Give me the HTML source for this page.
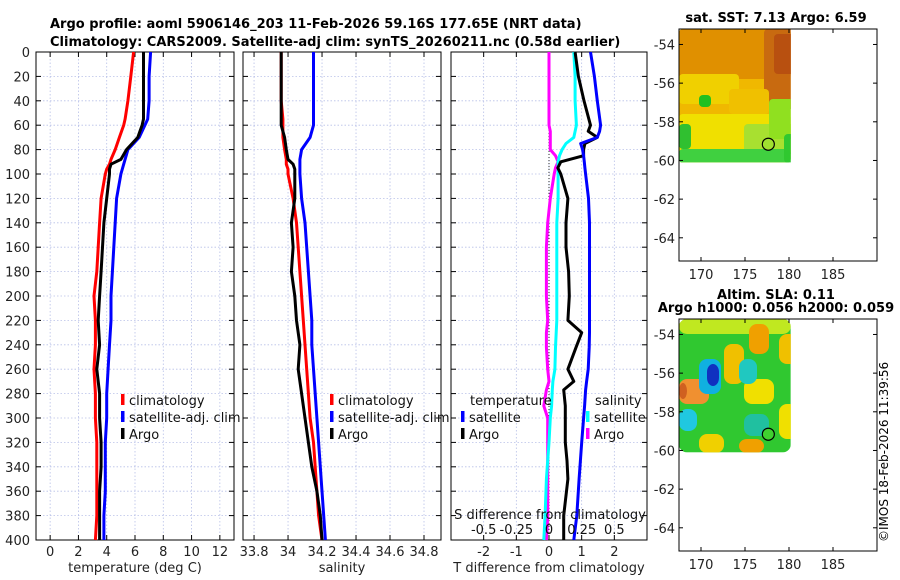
<!DOCTYPE html>
<html><head><meta charset="utf-8"><style>
body{margin:0;background:#fff}
svg{display:block;font-family:"DejaVu Sans","Liberation Sans",sans-serif}
</style></head><body>
<svg id="c" width="900" height="580" viewBox="0 0 900 580">
<text x="50" y="28" font-size="13" font-weight="bold">Argo profile: aoml 5906146_203 11-Feb-2026 59.16S 177.65E (NRT data)</text>
<text x="50" y="46" font-size="13" font-weight="bold">Climatology: CARS2009. Satellite-adj clim: synTS_20260211.nc (0.58d earlier)</text>
<g id="g"></g>
<text x="0" y="0" font-size="12" transform="translate(888,542) rotate(-90)">©IMOS 18-Feb-2026 11:39:56</text>
</svg>
<script>
const depths=[0,20,40,55,60,70,80,88,92,96,100,120,140,160,180,200,220,240,260,280,300,320,340,360,380,400];
const tClim=[5.9,5.7,5.5,5.3,5.2,4.9,4.6,4.3,4.2,4.0,3.9,3.6,3.5,3.4,3.3,3.1,3.2,3.2,3.1,3.2,3.2,3.3,3.3,3.3,3.3,3.2];
const tSat=[7.1,7.0,7.0,6.9,6.7,6.3,5.5,5.3,5.2,5.1,5.0,4.7,4.6,4.5,4.4,4.3,4.3,4.2,4.1,4.0,4.0,3.9,3.9,3.9,3.8,3.8];
const tArgo=[6.6,6.6,6.6,6.6,6.5,6.2,5.4,5.0,4.3,4.2,4.2,4.0,3.8,3.7,3.6,3.5,3.4,3.5,3.3,3.5,3.5,3.6,3.6,3.5,3.5,3.5];
const sClim=[33.96,33.96,33.96,33.97,33.97,33.97,33.98,33.99,33.99,34.0,34.0,34.03,34.05,34.06,34.07,34.08,34.09,34.1,34.11,34.12,34.13,34.15,34.16,34.17,34.18,34.2];
const sSat=[34.15,34.15,34.15,34.15,34.15,34.13,34.08,34.07,34.07,34.07,34.07,34.08,34.1,34.11,34.12,34.13,34.14,34.14,34.15,34.16,34.17,34.18,34.19,34.2,34.21,34.22];
const sArgo=[33.96,33.96,33.96,33.96,33.96,33.98,33.99,34.0,34.03,34.04,34.04,34.04,34.02,34.03,34.02,34.04,34.05,34.07,34.06,34.08,34.1,34.12,34.14,34.17,34.19,34.2];
const depthsD=[0,20,40,60,65,70,75,80,85,90,95,100,120,140,160,180,200,220,230,242,260,270,277,290,300,320,335,350,380,400];
const dTsat=[1.27,1.39,1.48,1.58,1.55,1.48,0.97,1.03,1.06,1.08,1.1,1.12,1.21,1.24,1.24,1.24,1.24,1.24,1.24,1.23,1.2,1.15,1.12,1.09,1.06,1.0,0.96,0.92,0.85,0.76];
const dTargo=[0.8,0.9,1.07,1.27,1.2,1.48,1.1,1.06,1.06,0.36,0.27,0.36,0.58,0.52,0.52,0.6,0.62,0.58,1.0,0.83,0.58,0.76,0.45,0.5,0.5,0.5,0.55,0.58,0.45,0.45];
const dSsat=[0.19,0.2,0.2,0.21,0.2,0.19,0.13,0.1,0.08,0.07,0.07,0.07,0.07,0.06,0.06,0.06,0.06,0.06,0.055,0.05,0.045,0.03,0.025,0.02,0.01,0.0,-0.01,-0.02,-0.03,-0.04];
const dSargo=[0.0,0.0,0.0,0.0,0.01,0.01,0.01,0.01,0.05,0.07,0.05,0.04,0.01,-0.01,-0.02,-0.02,-0.02,-0.01,-0.02,-0.02,-0.01,0.0,-0.02,-0.04,-0.01,-0.01,-0.01,-0.01,-0.01,-0.02];
const depthTicks=[0,20,40,60,80,100,120,140,160,180,200,220,240,260,280,300,320,340,360,380,400];
const tTicks=[0,2,4,6,8,10,12];
const sTicks=[33.8,34,34.2,34.4,34.6,34.8];
const dTicks=[-2,-1,0,1,2];
const dSTicks=[-0.5,-0.25,0,0.25,0.5];
const dSTickLabels=["-0.5","-0.25","0","0.25","0.5"];
const latTicks=[-54,-56,-58,-60,-62,-64];
const lonTicks=[170,175,180,185];

const NS="http://www.w3.org/2000/svg";
const G=document.getElementById('g');
function el(t,a,p){const e=document.createElementNS(NS,t);for(const k in a)e.setAttribute(k,a[k]);(p||G).appendChild(e);return e;}
const Y0=52,Y1=540;
const yD=d=>Y0+(d/400)*(Y1-Y0);
function lin(d0,d1,p0,p1){return v=>p0+(v-d0)/(d1-d0)*(p1-p0);}

function panel(name,x0,x1,xs,ticks,labels,xlabel,yl){
  const gp=el('g',{});
  
  
  depthTicks.forEach(d=>{const l=el('line',{x1:x0,x2:x1,y1:yD(d),y2:yD(d),stroke:'#b8c0e8','stroke-width':0.8,'stroke-dasharray':'1.5,2'},gp);
    
    el('line',{x1:x0,x2:x0+5,y1:yD(d),y2:yD(d),stroke:'#000'},gp);el('line',{x1:x1-5,x2:x1,y1:yD(d),y2:yD(d),stroke:'#000'},gp);
    if(yl){const t=el('text',{x:x0-6,y:yD(d)+5,'font-size':13,'text-anchor':'end',fill:'#222'},gp);t.textContent=d;
      }});
  ticks.forEach((v,i)=>{const X=xs(v);
    el('line',{x1:X,x2:X,y1:Y0,y2:Y1,stroke:'#b8c0e8','stroke-width':0.8,'stroke-dasharray':'1.5,2'},gp);
    el('line',{x1:X,x2:X,y1:Y1,y2:Y1-5,stroke:'#000'},gp);el('line',{x1:X,x2:X,y1:Y0,y2:Y0+5,stroke:'#000'},gp);
    const t=el('text',{x:X,y:556,'font-size':13,'text-anchor':'middle',fill:'#222'},gp);t.textContent=labels[i];
    });
  const r=el('rect',{x:x0,y:Y0,width:x1-x0,height:Y1-Y0,fill:'none',stroke:'#000','stroke-width':1},gp);
  
  const xl=el('text',{x:(x0+x1)/2,y:572,'font-size':13,'text-anchor':'middle',fill:'#222'},gp);xl.textContent=xlabel;
  
  return gp;
}
function line(gp,xs,vals,col,nm,dep){
  const dd=dep||depths;
  const pts=vals.map((v,i)=>xs(v).toFixed(1)+','+yD(dd[i]).toFixed(1)).join(' ');
  const p=el('polyline',{points:pts,fill:'none',stroke:col,'stroke-width':3,'stroke-linejoin':'round'},gp);
  
}
function leg(gp,x,y,col,txt){
  el('rect',{x:x-2,y:y-9,width:3.5,height:11,fill:col},gp);
  const t=el('text',{x:x+6,y:y+2,'font-size':13,fill:'#111'},gp);t.textContent=txt;
  
}
// Panel 1
const xT=lin(-1,13,36,234);
let p=panel('temperature-panel',36,234,xT,tTicks,tTicks.map(String),'temperature (deg C)',true);
line(p,xT,tClim,'#f00','temp-climatology-line');line(p,xT,tSat,'#00f','temp-satellite-line');line(p,xT,tArgo,'#000','temp-argo-line');
leg(p,123,403,'#f00','climatology');leg(p,123,420,'#00f','satellite-adj. clim');leg(p,123,437,'#000','Argo');
// Panel 2
const xS=lin(33.735,34.9,243,441);
p=panel('salinity-panel',243,441,xS,sTicks,sTicks.map(String),'salinity',false);
line(p,xS,sClim,'#f00','sal-climatology-line');line(p,xS,sSat,'#00f','sal-satellite-line');line(p,xS,sArgo,'#000','sal-argo-line');
leg(p,332,403,'#f00','climatology');leg(p,332,420,'#00f','satellite-adj. clim');leg(p,332,437,'#000','Argo');
// Panel 3
const xd=lin(-3,3,451,647), xds=lin(-0.75,0.75,451,647);
p=panel('difference-panel',451,647,xd,dTicks,dTicks.map(String),'T difference from climatology',false);
el('line',{x1:xd(0),x2:xd(0),y1:Y0,y2:Y1,stroke:'#000','stroke-width':0.8,'stroke-dasharray':'1,2'},p);
line(p,xds,dSargo,'#f0f','sdiff-argo-line',depthsD);line(p,xds,dSsat,'#0ff','sdiff-satellite-line',depthsD);
line(p,xd,dTargo,'#000','tdiff-argo-line',depthsD);line(p,xd,dTsat,'#00f','tdiff-satellite-line',depthsD);
let t=el('text',{x:470,y:405,'font-size':13,fill:'#111'},p);t.textContent='temperature';

t=el('text',{x:595,y:405,'font-size':13,fill:'#111'},p);t.textContent='salinity';

leg(p,463,420,'#00f','satellite');leg(p,463,437,'#000','Argo');leg(p,588,420,'#0ff','satellite');leg(p,588,437,'#f0f','Argo');
t=el('text',{x:xd(0)+1,y:519,'font-size':13,'text-anchor':'middle',fill:'#111'},p);t.textContent='S difference from climatology';

dSTicks.forEach((v,i)=>{const tt=el('text',{x:xds(v),y:534,'font-size':13,'text-anchor':'middle',fill:'#111'},p);tt.textContent=dSTickLabels[i];
  });

// Maps
function map(name,y0,titles,kind){
  const x0=679,x1=877,y1=y0+232;
  const gm=el('g',{});
  const lon=lin(167.5,190,x0,x1), lat=lin(-53.2,-65.2,y0,y1);
  const iw=lon(180.2)-x0, ih=lat(-60.1)-y0;
  const cid='cl'+kind;
  const cp=el('clipPath',{id:cid},gm);el('rect',{x:x0,y:y0,width:iw,height:ih},cp);
  const im=el('g',{'clip-path':'url(#'+cid+')'},gm);
  
  const blobs = kind==='sst' ? [
    [x0,y0,iw,ih,'#f0b800'],[x0,y0,iw,50,'#e09000'],[x0+85,y0,40,80,'#c86a10'],[x0+95,y0+5,25,40,'#b85010'],
    [x0,y0+45,60,30,'#f0d000'],[x0+50,y0+60,40,25,'#f0c000'],[x0,y0+85,iw,49,'#f0e000'],
    [x0+65,y0+95,50,30,'#a8e030'],[x0+90,y0+70,25,40,'#90e020'],[x0,y0+120,iw,14,'#40d040'],
    [x0,y0+95,12,25,'#30c030'],[x0+105,y0+105,18,29,'#30c830'],[x0+20,y0+66,12,12,'#20c020']
  ] : [
    [x0,y0,iw,ih,'#30c830'],[x0,y0,iw,15,'#c0e820'],[x0+70,y0+5,20,30,'#f0a000'],[x0+100,y0+15,23,30,'#f0c000'],
    [x0+45,y0+25,20,40,'#f0c000'],[x0,y0+60,30,25,'#f09030'],[x0,y0+64,8,16,'#d06020'],[x0+65,y0+60,30,25,'#f0e000'],
    [x0+20,y0+40,22,35,'#10b0e0'],[x0+28,y0+45,12,22,'#1030c0'],[x0+60,y0+40,18,25,'#20c8c0'],
    [x0,y0+90,18,22,'#20c8e0'],[x0+65,y0+95,25,22,'#20c0a0'],[x0+20,y0+115,25,19,'#f0d000'],[x0+60,y0+120,25,14,'#f0a000'],[x0+100,y0+85,23,35,'#f0e000']
  ];
  blobs.forEach(b=>el('rect',{x:b[0],y:b[1],width:b[2],height:b[3],fill:b[4],rx:kind==='sst'?4:8},im));
  const c=el('ellipse',{cx:lon(177.65),cy:lat(-59.16),rx:6,ry:6,fill:kind==='sst'?'#a0e030':'#40d030',stroke:'#000','stroke-width':1.2},gm);
  
  el('rect',{x:x0,y:y0,width:x1-x0,height:y1-y0,fill:'none',stroke:'#000'},gm);
  latTicks.forEach(v=>{const Y=lat(v);el('line',{x1:x0,x2:x0+4,y1:Y,y2:Y,stroke:'#000'},gm);el('line',{x1:x1-4,x2:x1,y1:Y,y2:Y,stroke:'#000'},gm);
    const tt=el('text',{x:x0-4,y:Y+5,'font-size':13,'text-anchor':'end',fill:'#222'},gm);tt.textContent=v;
    });
  lonTicks.forEach(v=>{const X=lon(v);el('line',{x1:X,x2:X,y1:y1,y2:y1-4,stroke:'#000'},gm);el('line',{x1:X,x2:X,y1:y0,y2:y0+4,stroke:'#000'},gm);
    const tt=el('text',{x:X,y:y1+18,'font-size':13,'text-anchor':'middle',fill:'#222'},gm);tt.textContent=v;
    });
  titles.forEach((s,i)=>{const tt=el('text',{x:776,y:y0-7-(titles.length-1-i)*13,'font-size':13,'font-weight':'bold','text-anchor':'middle'},gm);tt.textContent=s;
    });
}
map('sst-map',29,['sat. SST: 7.13 Argo: 6.59'],'sst');
map('sla-map',319,['Altim. SLA: 0.11','Argo h1000: 0.056 h2000: 0.059'],'sla');
</script>
</body></html>
